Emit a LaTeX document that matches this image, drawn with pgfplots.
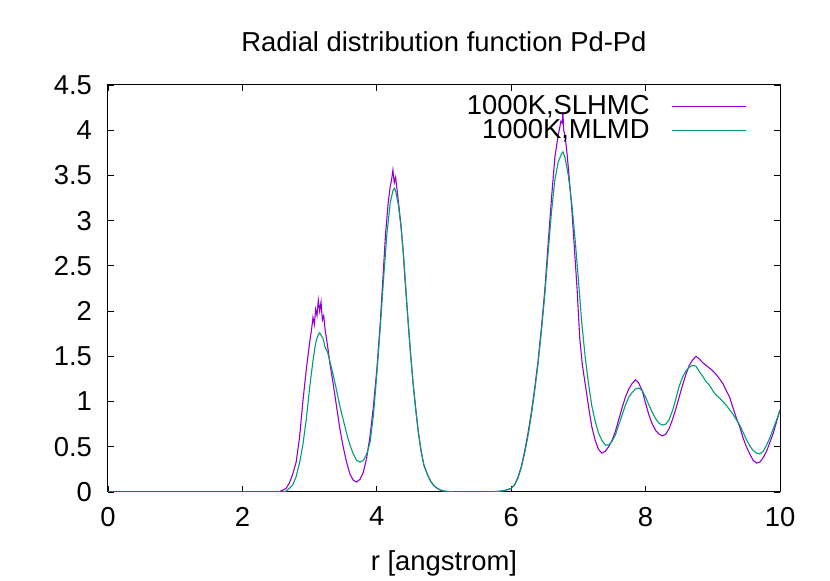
\documentclass[border=0pt]{standalone}
\usepackage{pgfplots}
\pgfplotsset{compat=1.18}
\usepackage{fontspec}
\setmainfont{Liberation Sans}
\definecolor{gpviolet}{HTML}{9400D3}
\definecolor{gpgreen}{HTML}{009E73}
\begin{document}
\begin{tikzpicture}[font=\fontsize{13.7}{16}\selectfont]
\path[use as bounding box] (-54pt,-44.5pt) rectangle (361pt,246pt);
\begin{axis}[
  at={(0pt,0pt)}, anchor=origin,
  scale only axis, width=336pt, height=203.5pt,
  xmin=0, xmax=10, ymin=0, ymax=4.5,
  xtick={0,2,4,6,8,10},
  ytick={0,0.5,1,1.5,2,2.5,3,3.5,4,4.5},
  yticklabels={0,0.5,1,1.5,2,2.5,3,3.5,4,4.5},
  xticklabels={0,2,4,6,8,10},
  tick align=inside, major tick length=3pt,
  tick style={black, line width=0.4pt},
  axis line style={black, line width=0.5pt},
  /pgf/number format/assume math mode=true,
  yticklabel style={xshift=-4.5pt},
  xticklabel style={yshift=-4pt},
  title={Radial distribution function Pd-Pd},
  title style={yshift=7pt},
  xlabel={r [angstrom]},
  xlabel style={yshift=-5pt},
  legend cell align=right,
  legend plot pos=right,
  legend style={draw=none, fill=none, at={(1,1)}, anchor=north east,
    xshift=-15.5pt, yshift=-2pt,
    row sep=-3pt, inner sep=1pt, font=\fontsize{13.7}{16}\selectfont,
    /tikz/every odd column/.append style={column sep=9pt}},
  legend image code/.code={\draw[#1, line width=0.5pt] (0pt,0pt) -- (37pt,0pt);},
]
\addplot[gpviolet, line width=0.55pt] coordinates {
(0,0) (2.5,0) (2.55,0.005) (2.6,0.02) (2.65,0.04) (2.7,0.1) (2.75,0.2) (2.8,0.33)
(2.85,0.6) (2.9,1.0) (2.95,1.35) (3.0,1.65) (3.03,1.8) (3.05,1.93) (3.07,1.85)
(3.09,2.02) (3.11,1.95) (3.13,2.12) (3.15,2.0) (3.17,2.1) (3.19,1.9) (3.21,1.95)
(3.23,1.8) (3.25,1.7) (3.28,1.55) (3.3,1.43) (3.35,1.2) (3.4,0.95) (3.45,0.7)
(3.5,0.5) (3.55,0.33) (3.6,0.2) (3.65,0.13) (3.7,0.11) (3.75,0.14) (3.8,0.22)
(3.85,0.38) (3.9,0.62) (3.95,0.95) (4.0,1.35) (4.05,1.85) (4.09,2.35) (4.13,2.85)
(4.17,3.2) (4.2,3.38) (4.22,3.45) (4.24,3.56) (4.26,3.42) (4.28,3.48) (4.3,3.35)
(4.33,3.15) (4.36,2.95) (4.39,2.68) (4.42,2.35) (4.46,1.94) (4.5,1.55) (4.54,1.2)
(4.58,0.92) (4.62,0.65) (4.66,0.45) (4.7,0.3) (4.75,0.2) (4.8,0.12) (4.85,0.07)
(4.9,0.04) (4.95,0.02) (5.0,0.01) (5.1,0.003) (5.2,0) (5.6,0) (5.75,0.005)
(5.85,0.01) (5.92,0.02) (6.0,0.04) (6.05,0.08) (6.1,0.16) (6.15,0.28) (6.2,0.45)
(6.25,0.65) (6.3,0.88) (6.35,1.15) (6.4,1.45) (6.45,1.82) (6.5,2.23) (6.55,2.75)
(6.6,3.25) (6.65,3.7) (6.68,3.85) (6.7,3.95) (6.72,4.02) (6.74,4.1) (6.76,4.08)
(6.77,4.2) (6.78,4.0) (6.8,3.95) (6.83,3.75) (6.86,3.5) (6.9,3.15) (6.94,2.7)
(6.98,2.25) (7.02,1.7) (7.06,1.4) (7.1,1.2) (7.13,1.05) (7.16,0.9) (7.2,0.72)
(7.25,0.57) (7.3,0.47) (7.35,0.43) (7.4,0.45) (7.45,0.5) (7.5,0.57) (7.55,0.67)
(7.6,0.8) (7.65,0.93) (7.7,1.05) (7.75,1.14) (7.8,1.2) (7.85,1.24) (7.88,1.22)
(7.9,1.2) (7.95,1.12) (8.0,0.98) (8.05,0.85) (8.1,0.75) (8.15,0.68) (8.2,0.64)
(8.25,0.62) (8.3,0.64) (8.35,0.7) (8.4,0.8) (8.45,0.92) (8.5,1.05) (8.55,1.18)
(8.6,1.3) (8.65,1.4) (8.7,1.46) (8.75,1.5) (8.8,1.47) (8.85,1.43) (8.9,1.4)
(8.95,1.37) (9.0,1.34) (9.05,1.3) (9.1,1.25) (9.15,1.2) (9.2,1.12) (9.25,1.05)
(9.3,0.93) (9.35,0.82) (9.4,0.72) (9.45,0.6) (9.5,0.5) (9.55,0.42) (9.6,0.35)
(9.65,0.32) (9.7,0.33) (9.75,0.38) (9.8,0.45) (9.85,0.55) (9.9,0.65) (9.95,0.78)
(10.0,0.91)
};
\addlegendentry{1000K,SLHMC}
\addplot[gpgreen, line width=0.55pt] coordinates {
(0,0) (2.6,0) (2.65,0.01) (2.7,0.04) (2.75,0.08) (2.8,0.17) (2.85,0.32) (2.9,0.52)
(2.95,0.8) (3.0,1.15) (3.05,1.45) (3.08,1.6) (3.1,1.68) (3.13,1.74) (3.15,1.76)
(3.18,1.72) (3.2,1.7) (3.23,1.6) (3.27,1.54) (3.3,1.45) (3.35,1.3) (3.4,1.13)
(3.45,0.95) (3.5,0.8) (3.55,0.65) (3.6,0.52) (3.65,0.42) (3.7,0.35) (3.75,0.33)
(3.8,0.35) (3.85,0.42) (3.9,0.55) (3.95,0.85) (4.0,1.3) (4.05,1.8) (4.1,2.35)
(4.15,2.85) (4.2,3.2) (4.24,3.33) (4.26,3.36) (4.28,3.33) (4.32,3.18) (4.36,2.93)
(4.4,2.6) (4.45,2.05) (4.5,1.55) (4.54,1.2) (4.58,0.9) (4.62,0.65) (4.66,0.45)
(4.7,0.3) (4.75,0.2) (4.8,0.12) (4.85,0.07) (4.9,0.04) (4.95,0.02) (5.0,0.01)
(5.1,0.003) (5.2,0) (5.7,0) (5.8,0.005) (5.9,0.015) (6.0,0.04) (6.05,0.08)
(6.1,0.15) (6.15,0.27) (6.2,0.43) (6.25,0.62) (6.3,0.85) (6.35,1.12) (6.4,1.42)
(6.45,1.78) (6.5,2.18) (6.55,2.65) (6.6,3.1) (6.65,3.45) (6.7,3.65) (6.75,3.74)
(6.77,3.76) (6.8,3.7) (6.85,3.5) (6.9,3.2) (6.95,2.8) (7.0,2.35) (7.05,1.87)
(7.1,1.5) (7.15,1.2) (7.2,0.95) (7.25,0.78) (7.3,0.65) (7.35,0.57) (7.4,0.52)
(7.45,0.52) (7.5,0.56) (7.55,0.63) (7.6,0.74) (7.65,0.85) (7.7,0.96) (7.75,1.05)
(7.8,1.1) (7.85,1.14) (7.9,1.15) (7.95,1.12) (8.0,1.05) (8.05,0.96) (8.1,0.88)
(8.15,0.81) (8.2,0.76) (8.25,0.74) (8.3,0.75) (8.35,0.8) (8.4,0.9) (8.45,1.03)
(8.5,1.17) (8.55,1.27) (8.6,1.34) (8.65,1.38) (8.7,1.4) (8.75,1.39) (8.8,1.33)
(8.85,1.28) (8.9,1.22) (8.95,1.18) (9.0,1.12) (9.05,1.07) (9.1,1.04) (9.15,1.0)
(9.2,0.96) (9.25,0.91) (9.3,0.86) (9.35,0.8) (9.4,0.74) (9.45,0.66) (9.5,0.58)
(9.55,0.51) (9.6,0.46) (9.65,0.43) (9.7,0.42) (9.75,0.45) (9.8,0.52) (9.85,0.6)
(9.9,0.7) (9.95,0.8) (10.0,0.9)
};
\addlegendentry{1000K,MLMD}
\end{axis}
\end{tikzpicture}
\end{document}
